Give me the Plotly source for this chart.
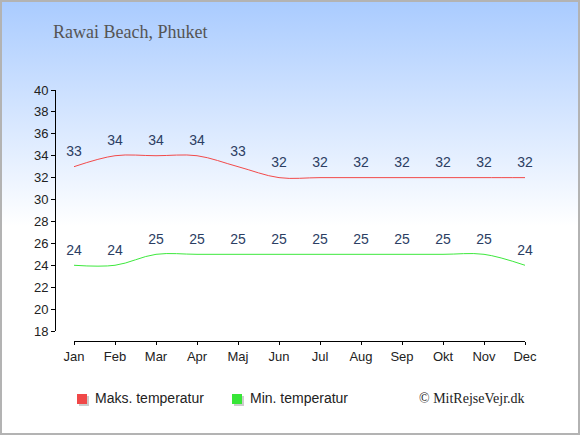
import base64
import plotly.graph_objects as go

months = ["Jan", "Feb", "Mar", "Apr", "Maj", "Jun", "Jul", "Aug", "Sep", "Okt", "Nov", "Dec"]
max_temp = [33, 34, 34, 34, 33, 32, 32, 32, 32, 32, 32, 32]
min_temp = [24, 24, 25, 25, 25, 25, 25, 25, 25, 25, 25, 24]
y_ticks = [18, 20, 22, 24, 26, 28, 30, 32, 34, 36, 38, 40]

W, H = 580, 435

def fx(px):
    return px / W

def fy(py):
    return 1 - py / H

# pixel positions of first / last month and padding (in category units) for the data axis
X_FIRST, X_LAST, PAD = 74, 525, 0.4
unit = (X_LAST - X_FIRST) / (len(months) - 1)
month_idx = list(range(len(months)))

svg = (
    '<svg xmlns="http://www.w3.org/2000/svg" width="580" height="435" preserveAspectRatio="none">'
    '<defs><linearGradient id="g" x1="0" y1="0" x2="0" y2="1">'
    '<stop offset="0" stop-color="#a9cbff"/><stop offset="0.52" stop-color="#ffffff"/>'
    '<stop offset="1" stop-color="#ffffff"/></linearGradient></defs>'
    '<rect width="580" height="435" fill="url(#g)"/></svg>'
)
src = "data:image/svg+xml;base64," + base64.b64encode(svg.encode()).decode()

fig = go.Figure()
label_font = dict(family="Liberation Sans, Arial", size=14, color="#2c3e63")
fig.add_trace(go.Scatter(
    x=months, y=max_temp, mode="lines+markers+text", name="Maks. temperatur",
    line=dict(color="#f24a4a", width=1, shape="spline"),
    marker=dict(size=10, opacity=0),
    text=[str(v) for v in max_temp], textposition="top center", textfont=label_font,
    showlegend=False, hoverinfo="skip"))
fig.add_trace(go.Scatter(
    x=months, y=min_temp, mode="lines+markers+text", name="Min. temperatur",
    line=dict(color="#3de83d", width=1, shape="spline"),
    marker=dict(size=10, opacity=0),
    text=[str(v) for v in min_temp], textposition="top center", textfont=label_font,
    showlegend=False, hoverinfo="skip"))
# invisible helper so the month axis (x2) gets drawn
fig.add_trace(go.Scatter(
    x=month_idx, y=min_temp, xaxis="x2", yaxis="y", mode="markers",
    marker=dict(size=1, opacity=0), showlegend=False, hoverinfo="skip"))

tick_font = dict(family="Liberation Sans, Arial", size=13, color="#222222")
fig.update_layout(
    width=W, height=H,
    margin=dict(l=0, r=0, t=0, b=0, autoexpand=False),
    paper_bgcolor="rgba(0,0,0,0)", plot_bgcolor="rgba(0,0,0,0)",
    xaxis=dict(
        domain=[fx(X_FIRST - PAD * unit), fx(X_LAST + PAD * unit)],
        range=[-PAD, len(months) - 1 + PAD], type="category", visible=False),
    xaxis2=dict(
        domain=[fx(X_FIRST), fx(X_LAST)], range=[0, len(months) - 1], type="linear",
        anchor="free", position=fy(341),
        tickvals=month_idx, ticktext=months,
        showline=True, linecolor="black", linewidth=1,
        ticks="outside", ticklen=3, tickcolor="black",
        showgrid=True, gridcolor="rgba(0,0,0,0)", zeroline=False, tickfont=tick_font),
    yaxis=dict(
        domain=[fy(331), fy(90)], range=[18, 40],
        anchor="free", position=fx(55),
        tickvals=y_ticks, showline=True, linecolor="black", linewidth=1,
        ticks="outside", ticklen=4, tickcolor="black",
        showgrid=True, gridcolor="rgba(0,0,0,0)", zeroline=False, tickfont=tick_font),
    images=[dict(source=src, xref="paper", yref="paper", x=0, y=1, sizex=1, sizey=1,
                 sizing="stretch", layer="below", xanchor="left", yanchor="top")],
    showlegend=False,
)

shapes = [
    dict(type="rect", xref="paper", yref="paper", x0=fx(1), x1=fx(579), y0=fy(434), y1=fy(1),
         line=dict(color="#b3b3b3", width=2), fillcolor="rgba(0,0,0,0)"),
    # backup for the month axis base line
    dict(type="line", xref="x2", yref="paper", x0=0, x1=len(months) - 1,
         y0=fy(341.5), y1=fy(341.5), line=dict(color="black", width=1)),
]
legend_items = [("Maks. temperatur", "#f04848", 77), ("Min. temperatur", "#37e637", 232)]
annotations = [
    dict(text="Rawai Beach, Phuket", xref="paper", yref="paper", x=fx(51), y=fy(32),
         xanchor="left", yanchor="middle", showarrow=False,
         font=dict(family="Liberation Serif, Georgia, serif", size=18, color="#555555")),
    dict(text="© MitRejseVejr.dk", xref="paper", yref="paper", x=fx(527), y=fy(398),
         xanchor="right", yanchor="middle", showarrow=False,
         font=dict(family="Liberation Serif, Times New Roman, serif", size=14, color="#222222")),
]
for name, col, x0 in legend_items:
    shapes.append(dict(type="rect", xref="paper", yref="paper",
                       x0=fx(x0 + 2), x1=fx(x0 + 12), y0=fy(406), y1=fy(396),
                       line=dict(width=0), fillcolor="#cccccc"))
    shapes.append(dict(type="rect", xref="paper", yref="paper",
                       x0=fx(x0), x1=fx(x0 + 10), y0=fy(404), y1=fy(394),
                       line=dict(width=0), fillcolor=col))
    annotations.append(dict(text=name, xref="paper", yref="paper", x=fx(x0 + 16), y=fy(398),
                            xanchor="left", yanchor="middle", showarrow=False,
                            font=dict(family="Liberation Sans, Arial", size=14, color="#222222")))
fig.update_layout(shapes=shapes, annotations=annotations)

fig.write_html("out.html", config={"displayModeBar": False},
               post_script="document.body.style.margin='0';document.body.style.overflow='hidden';")
